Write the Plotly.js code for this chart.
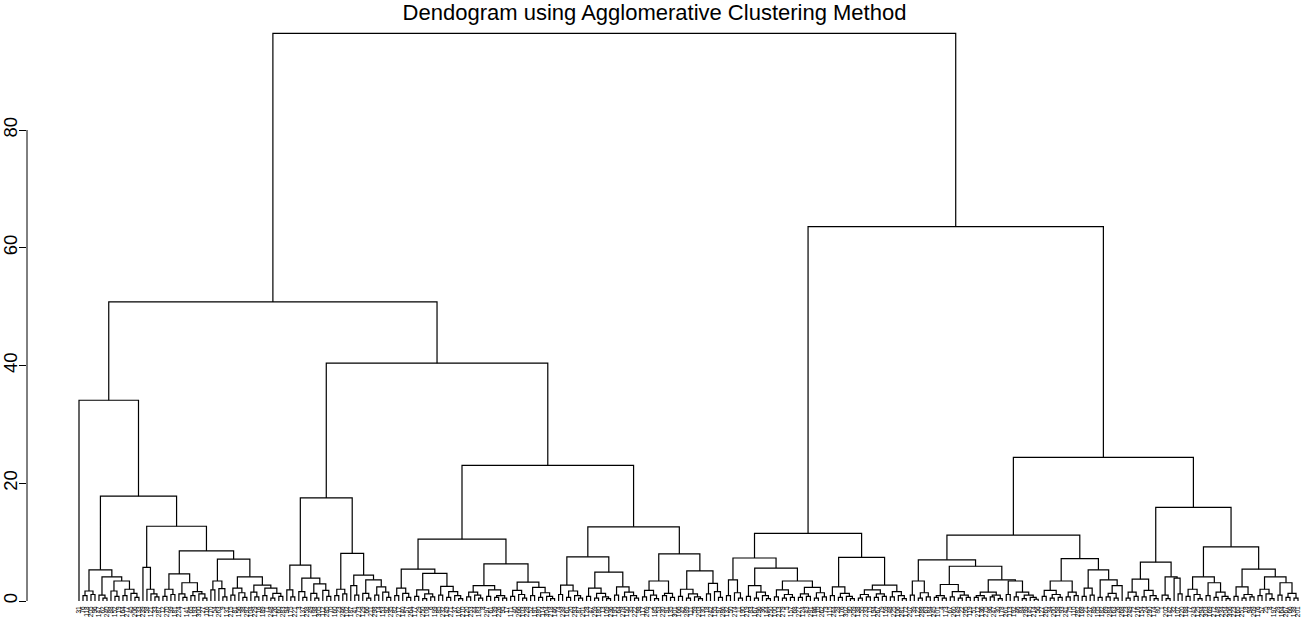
<!DOCTYPE html>
<html>
<head>
<meta charset="utf-8">
<script src="https://cdn.plot.ly/plotly-3.0.1.min.js"></script>
<style>html,body{margin:0;padding:0;background:#fff;}#chart{width:1309px;height:617px;}</style>
</head>
<body>
<div id="chart"></div>
<script>
// ---------------- DATA ----------------
// Each cluster: "(left,right)height", leaves are observation labels.
const clusterA = `
(31,
  (
    (((76,118)0.9,(205,96)1.1)1.7,
     ((147,(62,240)0.5)1.0,
      ((88,(152,19)0.8)1.7,((164,277)0.9,(45,(206,133)0.6)1.3)2.0)3.4
     )4.1
    )5.3,
    ((239,(58,(121,(33,287)0.7)1.2)2.0)5.7,
     ((((12,270)0.8,(99,181)1.1)2.0,((224,(7,141)0.6)1.2,((65,193)0.9,(300,(27,116)0.5)1.2)1.6)3.1)4.6,
      (((170,54)1.9,(263,(9,131)0.7)2.1)3.4,
       (((215,81)1.0,(156,(38,292)0.6)1.4)2.2,((104,(229,16)0.7)1.5,((189,71)0.9,((248,126)0.5,(60,283)0.8)1.3)2.2)2.7)4.1
      )7.1
     )8.5
    )12.7
  )17.8
)34.1`;

const clusterB1 = `
(
  ((94,(175,221)0.7)1.9,
   ((3,(137,258)0.6)1.6,((49,(198,305)0.5)1.3,(112,(285,70)0.8)1.8)2.9)3.9
  )6.1,
  (((160,23)0.9,(246,102)1.2)2.0,
   ((187,(41,273)1.0)2.6,((129,(66,211)0.5)1.3,((298,14)1.0,(153,(92,235)0.6)1.5)2.4)3.6)4.4
  )8.1
)17.5`;

const clusterB2a = `
(
  (((82,217)0.9,(140,(57,264)0.6)1.3)2.2,
   (((177,29)0.8,((250,108)0.4,(6,199)0.7)1.2)1.9,((85,232)1.0,((143,271)0.6,(37,(162,210)0.4)0.9)1.6)2.5)4.7
  )5.4,
  ((((120,253)0.7,(44,(183,8)0.5)1.0)1.5,((297,61)0.8,((139,226)0.6,(95,17)0.5)0.9)1.9)2.6,
   (((171,40)0.8,(266,(103,228)0.5)1.1)1.8,((52,191)0.9,((280,114)0.6,(304,(218,146)0.4)0.8)1.4)2.3)3.2
  )6.3
)10.5`;

const clusterB2b = `
(
  (((74,238)1.1,((161,20)0.6,(293,(87,201)0.5)0.9)1.7)2.7,
   (((128,47)0.8,((259,180)0.5,(13,(109,236)0.4)0.7)1.3)2.2,((195,64)1.0,((278,150)0.7,(35,(222,98)0.5)0.9)1.5)2.4)4.9
  )7.5,
  ((((117,269)0.7,(2,(185,53)0.4)1.0)1.8,((230,91)0.9,(135,301)0.6)1.3)3.4,
   (((166,42)0.8,((289,111)0.5,(59,(203,130)0.4)0.7)1.2)2.0,((18,242)1.2,(155,(97,286)0.6)1.6)3.0)5.1
  )8.0
)12.6`;

const clusterR1 = `
(
  (((132,50)0.9,(274,(11,190)0.5)1.4)3.6,
   (((219,83)0.8,((167,296)0.5,(36,(144,250)0.4)0.9)1.5)2.6,
    (((100,213)0.7,((279,5)0.5,(157,68)0.6)1.1)1.9,(((227,124)0.6,(43,291)0.8)1.2,((186,10)0.5,(262,73)0.7)1.4)2.3)3.4
   )5.6
  )7.3,
  (((115,244)0.9,((28,176)0.6,(302,(90,209)0.4)0.8)1.3)2.4,
   ((((138,55)0.5,(233,15)0.7)1.1,((194,267)0.6,(79,159)0.8)1.2)1.9,((48,225)0.7,(106,(281,172)0.4)0.9)1.6)2.7
  )7.4
)11.5`;

const clusterR2a = `
(
  (((207,39)1.0,((122,288)0.5,(63,184)0.7)1.4)3.4,
   ((((245,101)0.6,(4,173)0.5)0.9,((67,260)0.7,((149,22)0.5,(295,119)0.6)1.0)1.6)2.8,
    ((((51,212)0.6,(136,275)0.5)0.9,((86,247)0.7,(30,178)0.4)1.0)1.5,((261,113)1.1,((192,46)0.7,((84,299)0.4,(145,(214,56)0.3)0.6)1.0)1.5)3.4)3.6
   )5.9
  )7.0,
  ((((127,265)0.8,((34,200)0.5,(158,93)0.6)1.1)1.8,((241,75)0.7,(110,282)0.9)1.5)3.4,
   (((168,21)0.8,(237,89)1.0)2.2,((105,182)0.6,(((69,284)0.7,(163,26)0.5)1.3,268)2.6)3.6)5.3
  )7.2
)11.2`;

const clusterR2b = `
(
  ((((123,249)0.5,(72,216)0.8)1.5,((154,24)0.7,(290,(174,80)0.4)0.9)1.8)3.7,
   ((1,(202,142)0.4)1.0,(32,(107,220)1.2)3.9)4.1
  )6.6,
  ((((188,77)0.8,(243,(125,294)0.4)1.1)2.0,((303,169)0.9,((272,148)0.6,(234,(204,306)0.4)0.8)1.5)3.1)4.1,
   (((223,165)0.8,((251,18)0.5,(94,209)0.7)1.1)2.4,
    (((176,57)0.9,(25,(8,197)0.4)1.2)2.0,((28,164)1.0,((267,66)0.6,(138,201)0.5)1.3)3.1)4.1
   )5.4
  )9.2
)15.9`;

// Upper-level merge heights
const upperNames   = ["B2",  "B",  "L",  "R2", "R",  "root"];
const upperHeights = [23.05, 40.4, 50.8, 24.4, 63.6, 96.4];

const yTickVals = [0, 20, 40, 60, 80];
const chartTitle = "Dendogram using Agglomerative Clustering Method";

// ---------------- BUILD ----------------
const H = {};
upperNames.forEach((n, k) => H[n] = upperHeights[k]);
const treeStr = `((${clusterA},(${clusterB1},(${clusterB2a},${clusterB2b})${H.B2})${H.B})${H.L},` +
                `(${clusterR1},(${clusterR2a},${clusterR2b})${H.R2})${H.R})${H.root}`;

function parseTree(s) {
  s = s.replace(/\s+/g, '');
  let i = 0;
  function num() { const j = i; while (i < s.length && /[0-9.]/.test(s[i])) i++; return s.slice(j, i); }
  function node() {
    if (s[i] === '(') {
      i++; const l = node(); i++; const r = node(); i++;
      return {l, r, h: parseFloat(num())};
    }
    return {label: num()};
  }
  return node();
}
const tree = parseTree(treeStr);

const leafLabels = [];
let leafCount = 0;
function place(n) {
  if (n.label !== undefined) { n.x = leafCount++; n.y = 0; leafLabels.push(n.label); return; }
  place(n.l); place(n.r);
  n.x = (n.l.x + n.r.x) / 2; n.y = n.h;
}
place(tree);

const xs = [], ys = [];
function draw(n) {
  if (n.label !== undefined) return;
  xs.push(n.l.x, n.l.x, n.r.x, n.r.x, null);
  ys.push(n.l.y, n.h, n.h, n.r.y, null);
  draw(n.l); draw(n.r);
}
draw(tree);

const leafPos = leafLabels.map((_, k) => k);

// pixel mapping: leaf 0 at x=79px, last leaf at x=1298px; plot area from 27px to 1305px
const pxPerLeaf = (1298 - 79) / (leafCount - 1);
const xr0 = (27 - 79) / pxPerLeaf;
const xr1 = (leafCount - 1) + (1305 - 1298) / pxPerLeaf;
// y: 0 at 601px, 80 at 130px; plot area from 20px to 604px
const pxPerUnit = (601 - 130) / 80;
const yr0 = -(604 - 601) / pxPerUnit;
const yr1 = (601 - 20) / pxPerUnit;

const trace = {
  type: 'scatter', mode: 'lines', x: xs, y: ys,
  line: {color: '#000', width: 1.2}, hoverinfo: 'skip', connectgaps: false, showlegend: false
};

const layout = {
  width: 1309, height: 617,
  margin: {l: 27, r: 4, t: 20, b: 13, pad: 0},
  paper_bgcolor: '#fff', plot_bgcolor: '#fff',
  font: {family: 'Liberation Sans, Arial, sans-serif', color: '#000'},
  title: {
    text: chartTitle, font: {size: 22, family: 'Liberation Sans, Arial, sans-serif', color: '#000'},
    x: 0.5, xref: 'container', xanchor: 'center', y: 1 - 12 / 617, yref: 'container', yanchor: 'middle'
  },
  xaxis: {
    range: [xr0, xr1], showgrid: false, zeroline: false, showline: false,
    tickmode: 'array', tickvals: leafPos, ticktext: leafLabels, tickangle: -90,
    tickfont: {size: 6.5, color: '#000'}, ticks: '', fixedrange: true
  },
  yaxis: {
    range: [yr0, yr1], showgrid: false, zeroline: false, showline: false,
    tickmode: 'array', tickvals: yTickVals, ticktext: yTickVals.map(String),
    ticks: 'outside', ticklen: 7, tickwidth: 1, tickcolor: '#000', tickangle: -90,
    ticklabelstandoff: -5,
    tickfont: {size: 18.5, color: '#000'}, fixedrange: true
  },
  shapes: [{
    type: 'line', xref: 'paper', x0: 0, x1: 0, yref: 'y', y0: yTickVals[0], y1: yTickVals[yTickVals.length - 1],
    line: {color: '#000', width: 1}
  }]
};

Plotly.newPlot('chart', [trace], layout, {displayModeBar: false, staticPlot: true});
</script>
</body>
</html>
